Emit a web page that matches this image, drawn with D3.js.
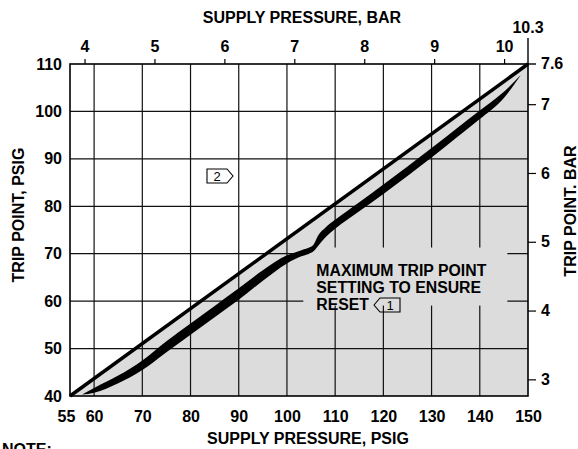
<!DOCTYPE html>
<html>
  <head>
    <script src="https://d3js.org/d3.v7.min.js"></script>
    <title>Trip Point vs Supply Pressure</title>
    <style>
      body { margin: 0; background: #fff; }
      text { font-family: "Liberation Sans", Arial, sans-serif; font-weight: bold; fill: #000; }
    </style>
  </head>
  <body>
  <svg width="578" height="449"></svg>
  <script>
      var svg = d3.select('svg');

      // axis ticks (psig)
      var supplyTicks = [55, 60, 70, 80, 90, 100, 110, 120, 130, 140, 150];
      var tripTicks = [40, 50, 60, 70, 80, 90, 100, 110];
      // bar ticks
      var supplyBarTicks = [4, 5, 6, 7, 8, 9, 10];
      var supplyBarEnd = '10.3';
      var tripBarTicks = [3, 4, 5, 6, 7];
      var tripBarEnd = '7.6';
      var PSI_PER_BAR = 14.5038;

      // maximum trip point setting (straight line, psig)
      var maxTripLine = [[55, 40], [150, 110]];

      // thick curve: supply psig, upper and lower edge of trip psig
      var bandSupply = [57.5, 60, 65, 70, 75, 80, 85, 90, 95, 100, 103, 104.5, 105.5, 106.5, 108, 110, 115, 120, 125, 130, 135, 140, 145, 148.5];
      var bandUpper = [40.3, 41.7, 44.3, 47.5, 51.55, 55.3, 59.0, 62.7, 66.5, 69.65, 70.75, 71.25, 71.9, 73.9, 75.55, 77.15, 80.85, 84.6, 88.4, 92.3, 96.25, 100.2, 104.15, 107.7];
      var bandLower = [40.3, 40.7, 42.7, 45.5, 49.25, 52.9, 56.6, 60.3, 64.3, 67.95, 69.45, 69.95, 70.5, 71.7, 73.45, 75.25, 78.95, 82.6, 86.4, 90.3, 94.35, 98.4, 102.85, 107.7];

      var noteLines = ['MAXIMUM TRIP POINT', 'SETTING TO ENSURE', 'RESET'];

      var pLeft = 70, pRight = 528, pTop = 64, pBottom = 396;

      var x = d3.scaleLinear().domain([55, 150]).range([pLeft, pRight]);
      var y = d3.scaleLinear().domain([40, 110]).range([pBottom, pTop]);
      var xBar = d3.scaleLinear().domain([55 / PSI_PER_BAR, 150 / PSI_PER_BAR]).range([pLeft, pRight]);
      var yBar = d3.scaleLinear().domain([40 / PSI_PER_BAR, 110 / PSI_PER_BAR]).range([pBottom, pTop]);

      var grey = '#dcdcdc';
      var fs = '16px';

      // shaded region below max trip line
      svg.append('path')
        .attr('d', d3.line()([[x(55), y(40)], [x(150), y(110)], [x(150), y(40)]]) + 'Z')
        .attr('fill', grey);

      // grid
      var grid = svg.append('g').attr('stroke', '#111').attr('stroke-width', 1.2);
      grid.selectAll('.vg').data(supplyTicks.filter(d => d > 55 && d < 150))
        .enter().append('line')
        .attr('x1', d => x(d)).attr('x2', d => x(d))
        .attr('y1', pTop).attr('y2', pBottom);
      grid.selectAll('.hg').data(tripTicks.filter(d => d > 40 && d < 110))
        .enter().append('line')
        .attr('x1', pLeft).attr('x2', pRight)
        .attr('y1', d => y(d)).attr('y2', d => y(d));

      // note box background hides grid
      svg.append('rect')
        .attr('x', x(106.3) - 14).attr('y', y(71.3))
        .attr('width', 204).attr('height', 58)
        .attr('fill', grey);

      // frame
      svg.append('rect')
        .attr('x', pLeft).attr('y', pTop)
        .attr('width', pRight - pLeft).attr('height', pBottom - pTop)
        .attr('fill', 'none').attr('stroke', '#000').attr('stroke-width', 1.6);

      // max trip line
      svg.append('path')
        .attr('d', d3.line().x(d => x(d[0])).y(d => y(d[1]))(maxTripLine))
        .attr('stroke', '#000').attr('stroke-width', 3.5).attr('fill', 'none');

      // thick curve
      var bandData = bandSupply.map((s, i) => ({s: s, u: bandUpper[i], l: bandLower[i]}));
      svg.append('path')
        .datum(bandData)
        .attr('d', d3.area().curve(d3.curveMonotoneX)
          .x(d => x(d.s)).y0(d => y(d.l)).y1(d => y(d.u)))
        .attr('fill', '#000');

      // bottom axis
      var xAxis = svg.append('g')
        .attr('transform', `translate(0, ${pBottom})`)
        .call(d3.axisBottom(x).tickValues(supplyTicks).tickSize(0).tickPadding(15));
      xAxis.select('.domain').remove();
      xAxis.selectAll('text').style('font-size', fs)
        .attr('dx', d => d === 55 ? -4 : 0);

      // left axis
      var yAxis = svg.append('g')
        .attr('transform', `translate(${pLeft}, 0)`)
        .call(d3.axisLeft(y).tickValues(tripTicks).tickSize(0).tickPadding(8));
      yAxis.select('.domain').remove();
      yAxis.selectAll('text').style('font-size', fs);

      // top axis (bar)
      var topAxis = svg.append('g')
        .attr('transform', `translate(0, ${pTop})`)
        .call(d3.axisTop(xBar).tickValues(supplyBarTicks).tickSize(5).tickPadding(7).tickFormat(d3.format('d')));
      topAxis.select('.domain').remove();
      topAxis.selectAll('line').attr('stroke', '#000').attr('stroke-width', 1.2);
      topAxis.selectAll('text').style('font-size', fs);

      svg.append('line')
        .attr('x1', pRight).attr('x2', pRight).attr('y1', pTop).attr('y2', pTop - 26)
        .attr('stroke', '#000').attr('stroke-width', 1.4);
      svg.append('text')
        .attr('x', pRight).attr('y', pTop - 31)
        .attr('text-anchor', 'middle').style('font-size', fs)
        .text(supplyBarEnd);

      // right axis (bar)
      var rightAxis = svg.append('g')
        .attr('transform', `translate(${pRight}, 0)`)
        .call(d3.axisRight(yBar).tickValues(tripBarTicks).tickSize(8).tickPadding(5).tickFormat(d3.format('d')));
      rightAxis.select('.domain').remove();
      rightAxis.selectAll('line').attr('stroke', '#000').attr('stroke-width', 1.2);
      rightAxis.selectAll('text').style('font-size', fs);

      svg.append('line')
        .attr('x1', pRight).attr('x2', pRight + 8).attr('y1', pTop).attr('y2', pTop)
        .attr('stroke', '#000').attr('stroke-width', 1.4);
      svg.append('text')
        .attr('x', pRight + 13).attr('y', pTop).attr('dy', '0.32em')
        .style('font-size', fs)
        .text(tripBarEnd);

      // titles
      svg.append('text')
        .attr('x', 302).attr('y', 23)
        .attr('text-anchor', 'middle').style('font-size', fs)
        .text('SUPPLY PRESSURE, BAR');
      svg.append('text')
        .attr('x', 308).attr('y', 444)
        .attr('text-anchor', 'middle').style('font-size', fs)
        .text('SUPPLY PRESSURE, PSIG');
      svg.append('text')
        .attr('transform', 'translate(24, 215) rotate(-90)')
        .attr('text-anchor', 'middle').style('font-size', fs)
        .text('TRIP POINT, PSIG');
      svg.append('text')
        .attr('transform', 'translate(576, 211) rotate(-90)')
        .attr('text-anchor', 'middle').style('font-size', fs)
        .text('TRIP POINT. BAR');
      svg.append('text')
        .attr('x', 2).attr('y', 455)
        .style('font-size', fs)
        .text('NOTE:');

      // note text
      var noteX = x(106.3) - 1;
      svg.selectAll('.note').data(noteLines)
        .enter().append('text')
        .attr('x', noteX)
        .attr('y', (d, i) => 276 + i * 17)
        .style('font-size', '15.8px')
        .text(d => d);

      // callout 1 (points left)
      var c1x = 374, c1y = 298, cw = 26, ch = 14;
      svg.append('path')
        .attr('d', `M${c1x},${c1y + ch / 2}L${c1x + 6},${c1y}L${c1x + cw},${c1y}L${c1x + cw},${c1y + ch}L${c1x + 6},${c1y + ch}Z`)
        .attr('fill', 'none').attr('stroke', '#000').attr('stroke-width', 1.1);
      svg.append('text')
        .attr('x', c1x + 16).attr('y', c1y + ch - 2)
        .attr('text-anchor', 'middle')
        .style('font-size', '13px').style('font-weight', 'normal')
        .text('1');

      // callout 2 (points right)
      var c2x = 207, c2y = 169;
      svg.append('path')
        .attr('d', `M${c2x},${c2y}L${c2x + cw - 6},${c2y}L${c2x + cw},${c2y + ch / 2}L${c2x + cw - 6},${c2y + ch}L${c2x},${c2y + ch}Z`)
        .attr('fill', 'none').attr('stroke', '#000').attr('stroke-width', 1.1);
      svg.append('text')
        .attr('x', c2x + 10).attr('y', c2y + ch - 2)
        .attr('text-anchor', 'middle')
        .style('font-size', '13px').style('font-weight', 'normal')
        .text('2');
  </script>
  </body>
</html>
